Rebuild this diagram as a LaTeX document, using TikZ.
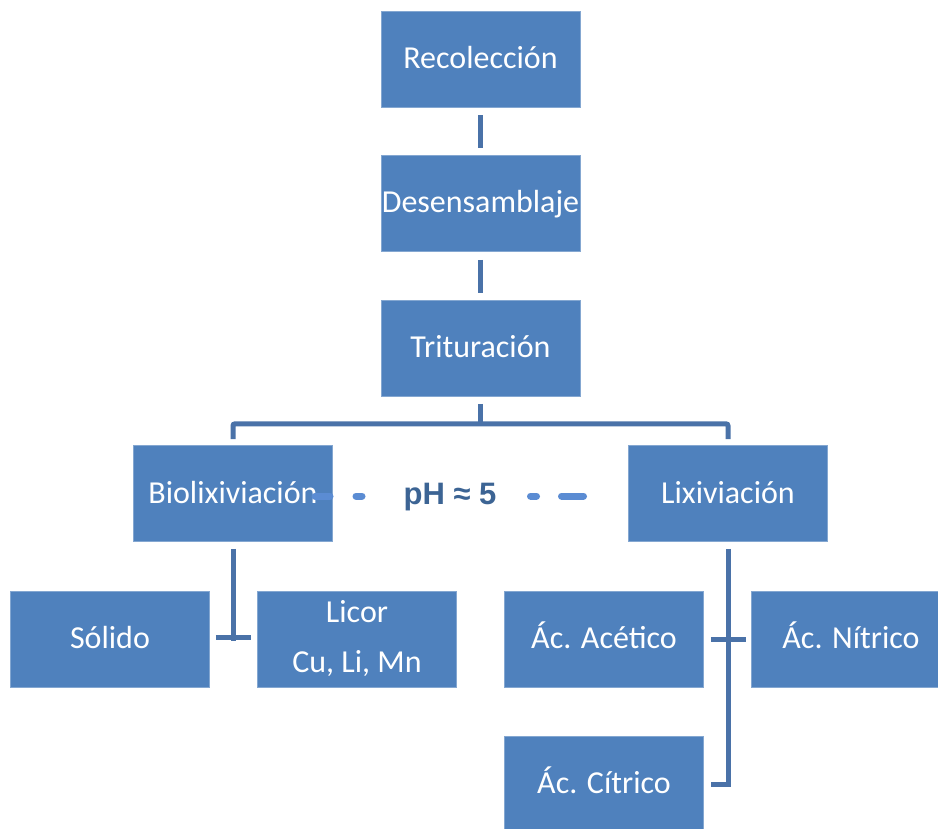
\documentclass[tikz,border=0pt]{standalone}
\usepackage{fontspec}
\setmainfont{Carlito}
\newfontfamily\phfont{Liberation Sans}
\definecolor{boxblue}{HTML}{4F81BD}
\definecolor{connblue}{HTML}{4A72A8}
\definecolor{dashblue}{HTML}{5B8CD3}
\definecolor{phblue}{HTML}{3C6494}
\tikzset{
  boxbase/.style={fill=boxblue, draw=boxblue!70!white, line width=0.6pt, minimum width=199pt, minimum height=96pt,
    inner sep=0pt, text=white, font=\fontsize{32}{50}\selectfont, align=center},
  box/.style={boxbase, text height=26pt, text depth=7pt},
  conn/.style={draw=connblue, line width=5pt},
  dashline/.style={draw=dashblue, line width=7pt, line cap=round}
}
\begin{document}
\begin{tikzpicture}[x=1pt,y=-1pt]
\clip (0,0) rectangle (938,829);
\fill[white] (0,0) rectangle (938,829);
% boxes
\node[box] (rec) at (480.5,59) {Recolección};
\node[box] (des) at (480.5,203.5) {Desensamblaje};
\node[box] (tri) at (480.5,348.5) {Trituración};
\node[box] (bio) at (233,493.5) {Biolixiviación};
\node[box] (lix) at (728,493.5) {Lixiviación};
\node[box] (sol) at (110,639) {Sólido};
\node[boxbase] (lic) at (357,639) {Licor\\Cu, Li, Mn};
\node[box] (ace) at (604,639) {Ác. Acético};
\node[box] (nit) at (851,639) {Ác. Nítrico};
\node[box] (cit) at (604,784) {Ác. Cítrico};
% connectors
\draw[conn] ([yshift=-8pt]rec.south) -- ([yshift=7pt]des.north);
\draw[conn] ([yshift=-8pt]des.south) -- ([yshift=7pt]tri.north);
\coordinate (treey) at ([yshift=-27pt]tri.south);
\draw[conn] ([yshift=-7pt]tri.south) -- (treey);
\draw[conn, rounded corners=2pt] ([yshift=6pt]bio.north) |- (treey) -| ([yshift=6pt]lix.north);
% Biolixiviacion subtree
\draw[conn] ([yshift=-7pt]bio.south) -- ([yshift=-2pt]bio.south |- sol.east);
\draw[conn] ([xshift=6pt,yshift=2pt]sol.east) -- ([xshift=-6pt,yshift=2pt]lic.west);
% Lixiviacion subtree
\draw[conn] ([yshift=-7pt]lix.south) |- ([xshift=7pt]cit.east);
\draw[conn] ([xshift=7pt]ace.east) -- ([xshift=-5pt]nit.west);
% pH dashed link
\coordinate (d1) at (315,496);
\coordinate (d2) at (362,496);
\coordinate (d3) at (530.5,496);
\coordinate (d4) at (583.5,496);
\draw[dashline, dash pattern=on 15pt off 26pt] (d1) -- (d2);
\draw[dashline, dash pattern=on 6pt off 25pt on 22pt off 20pt] (d3) -- (d4);
\node[text=phblue, font=\phfont\bfseries\fontsize{31}{36}\selectfont] (ph) at (450,497) {pH ≈ 5};
\end{tikzpicture}
\end{document}
